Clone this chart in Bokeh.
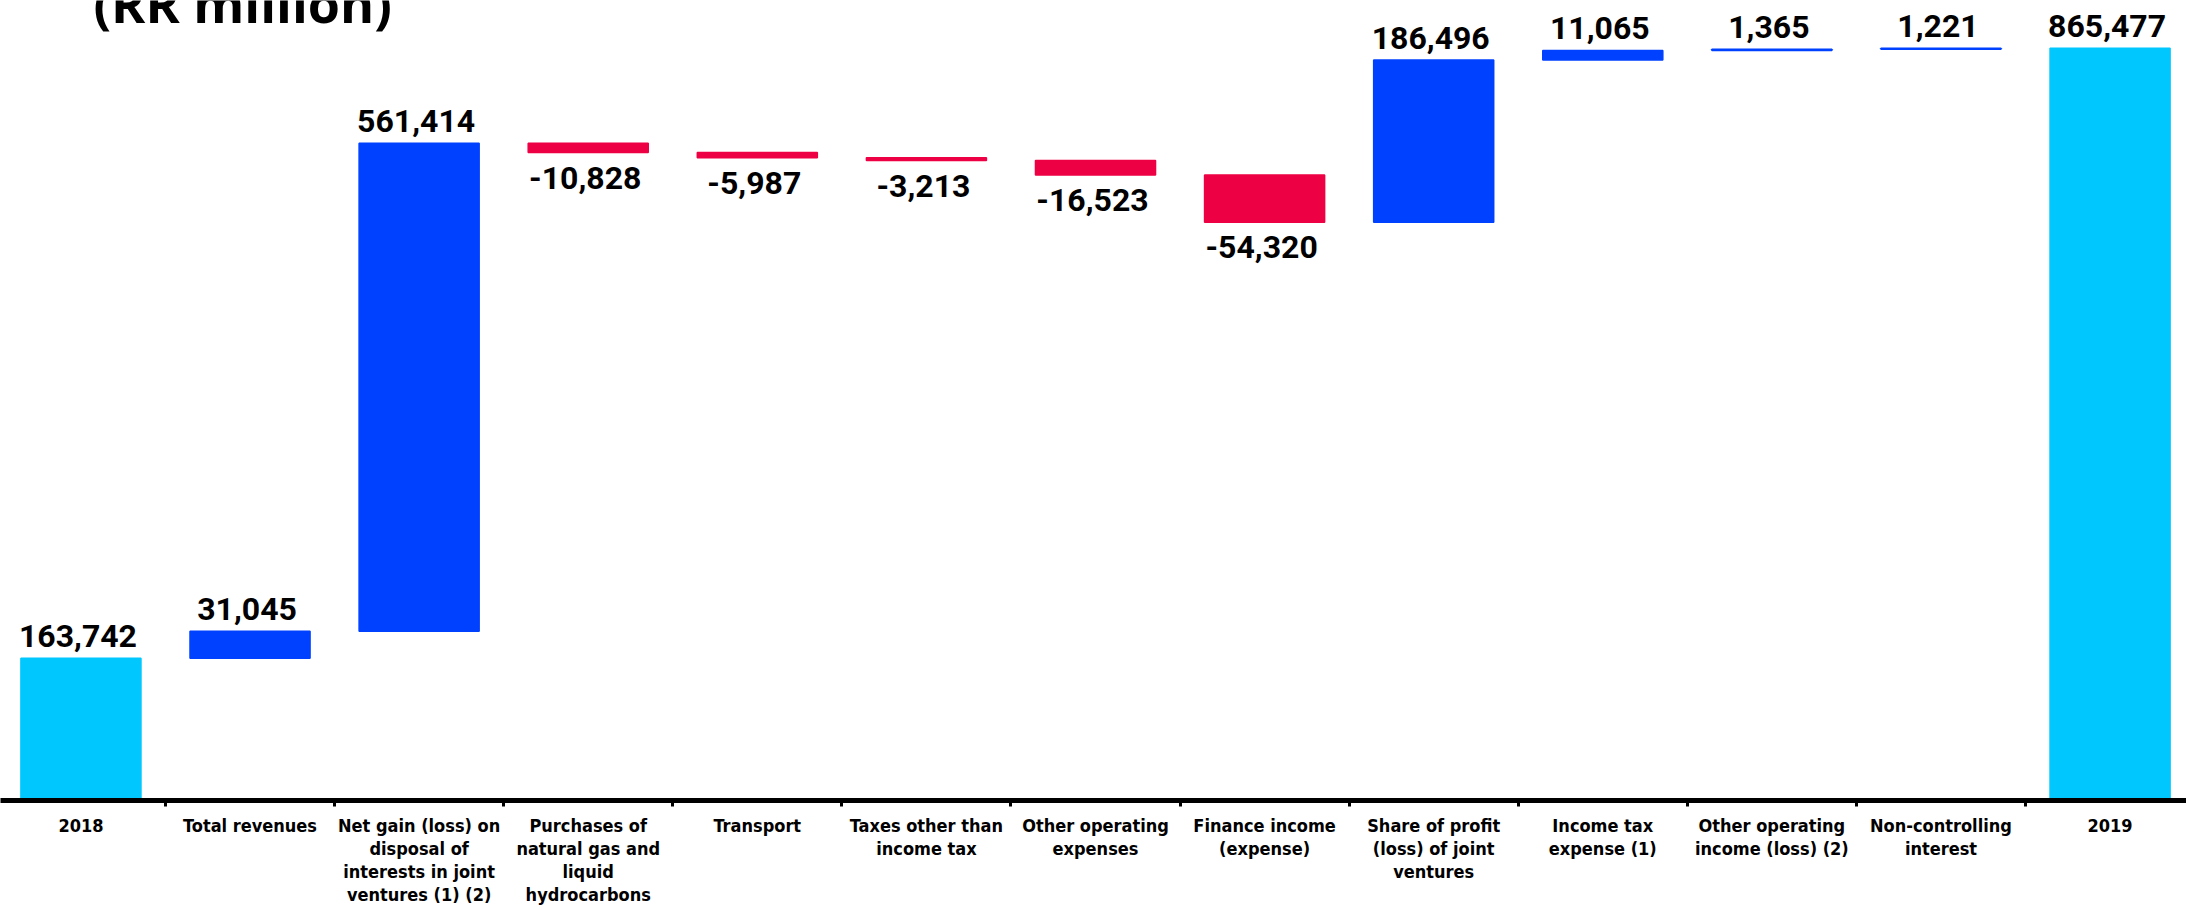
import numpy as np
from bokeh.plotting import figure
from bokeh.models import ColumnDataSource, FixedTicker, Range1d, Label
from bokeh.core.properties import value
from bokeh.embed import file_html
from bokeh.resources import INLINE

# ---- data ----
categories = [
    "2018",
    "Total revenues",
    "Net gain (loss) on\ndisposal of\ninterests in joint\nventures (1) (2)",
    "Purchases of\nnatural gas and\nliquid\nhydrocarbons",
    "Transport",
    "Taxes other than\nincome tax",
    "Other operating\nexpenses",
    "Finance income\n(expense)",
    "Share of profit\n(loss) of joint\nventures",
    "Income tax\nexpense (1)",
    "Other operating\nincome (loss) (2)",
    "Non-controlling\ninterest",
    "2019",
]
start_total = 163742
changes = [31045, 561414, -10828, -5987, -3213, -16523, -54320, 186496, 11065, 1365, 1221]
end_total = 865477
title_text = "(RR million)"

# ---- colours ----
C_TOTAL = "#00C8FF"
C_UP = "#0040FF"
C_DOWN = "#EE0044"

# ---- waterfall geometry from data ----
chg = np.array(changes, dtype=float)
cum = start_total + np.cumsum(chg)
prev = np.concatenate([[start_total], cum[:-1]])
bottoms = np.concatenate([[0], np.minimum(prev, cum), [0]])
tops = np.concatenate([[start_total], np.maximum(prev, cum), [end_total]])
vals = [start_total] + changes + [end_total]
colors = [C_TOTAL] + [C_UP if c >= 0 else C_DOWN for c in changes] + [C_TOTAL]
xs = np.arange(len(categories))
labels = [f"{v:,}" for v in vals]

src = ColumnDataSource(dict(x=xs, bottom=bottoms, top=tops, color=colors))

pos_idx = [i for i, v in enumerate(vals) if v >= 0]
neg_idx = [i for i, v in enumerate(vals) if v < 0]
pos_src = ColumnDataSource(dict(x=xs[pos_idx], y=tops[pos_idx], t=[labels[i] for i in pos_idx]))
neg_src = ColumnDataSource(dict(x=xs[neg_idx], y=bottoms[neg_idx], t=[labels[i] for i in neg_idx]))

p = figure(
    width=2186, height=910,
    x_range=Range1d(-0.4757, 12.452),
    y_range=Range1d(0, 920370),
    output_backend="svg", toolbar_location=None,
    min_border_left=0, min_border_right=0, min_border_top=0, min_border_bottom=110,
)
p.outline_line_color = None
p.grid.visible = False
p.yaxis.visible = False

p.vbar(x="x", bottom="bottom", top="top", width=0.71, source=src,
       fill_color="color", line_color="color", line_width=1.5)

common = dict(text_font=value("Roboto"), text_font_style="bold", text_font_size="32px",
              text_color="black", text_align="center", x_offset=-3)
p.text(x="x", y="y", text="t", source=pos_src, text_baseline="alphabetic", y_offset=-22, **common)
p.text(x="x", y="y", text="t", source=neg_src, text_baseline="top", y_offset=14, **common)

ax = p.xaxis[0]
ax.ticker = FixedTicker(ticks=list(xs), minor_ticks=list(xs[:-1] + 0.5))
ax.major_label_overrides = {int(i): c for i, c in zip(xs, categories)}
ax.axis_line_width = 5
ax.axis_line_color = "black"
ax.major_tick_line_color = None
ax.major_tick_out = 0
ax.major_tick_in = 0
ax.minor_tick_line_color = "black"
ax.minor_tick_line_width = 3
ax.minor_tick_out = 6
ax.minor_tick_in = 0
ax.major_label_standoff = 8
ax.major_label_text_font = "DejaVu Sans Condensed"
ax.major_label_text_font_style = "bold"
ax.major_label_text_font_size = "18px"
ax.major_label_text_line_height = 1.1
ax.major_label_text_color = "black"

p.add_layout(Label(x=93, y=798, x_units="screen", y_units="screen", text=title_text,
                   text_font="Open Sans", text_font_style="bold",
                   text_font_size="52px", text_baseline="alphabetic", text_color="black"))

open("out.html", "w").write(file_html(p, INLINE))
